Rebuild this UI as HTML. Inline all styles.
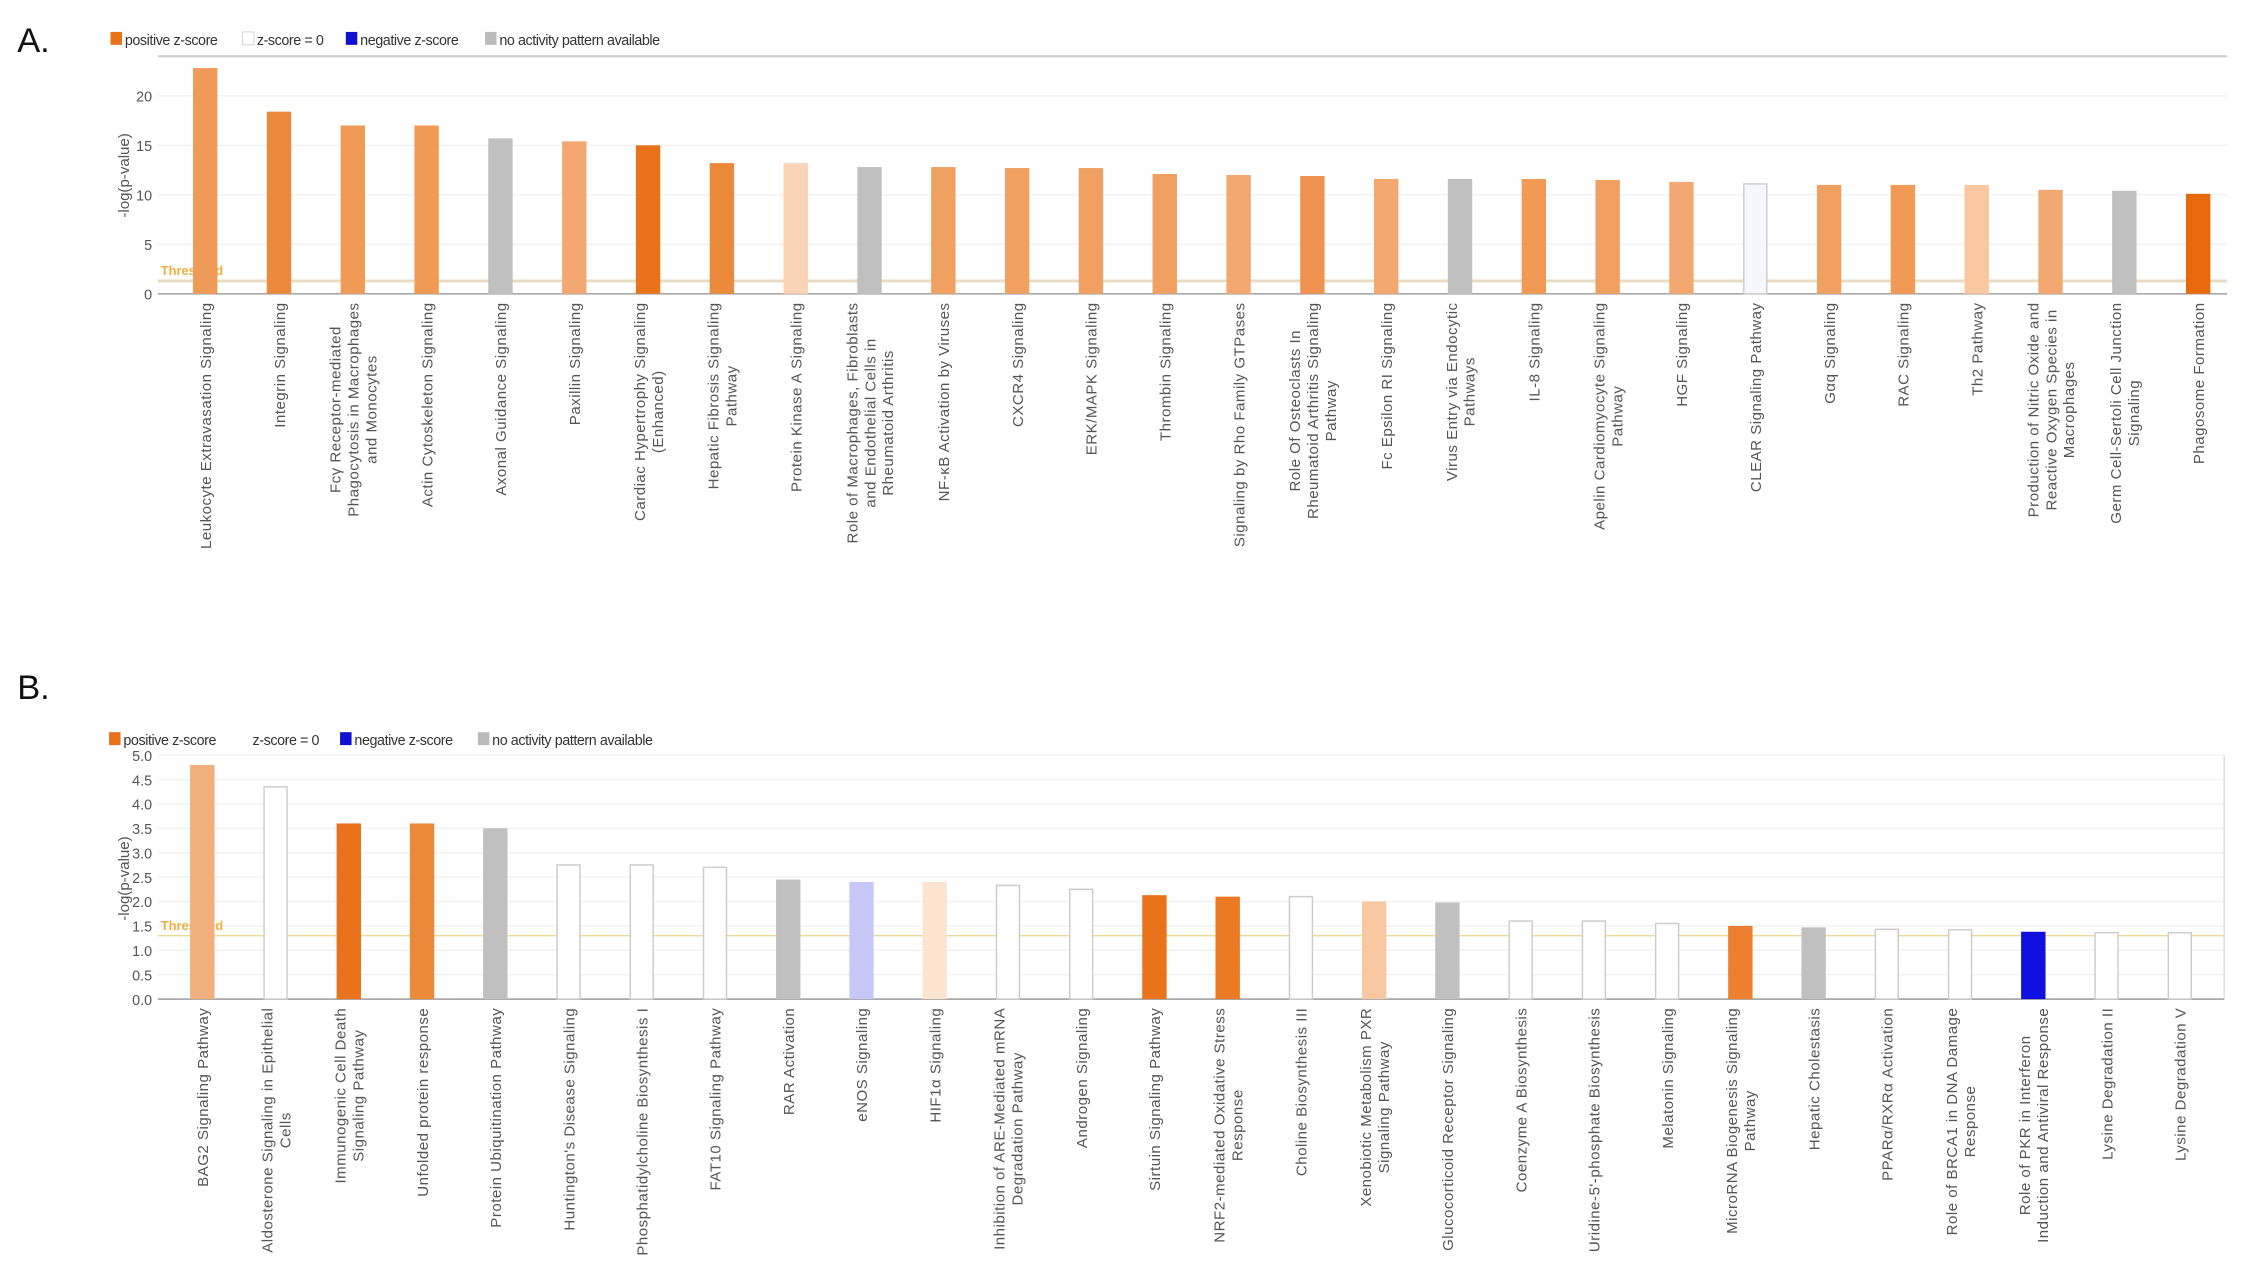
<!DOCTYPE html>
<html><head><meta charset="utf-8"><style>html,body{margin:0;padding:0;background:#fff}svg{display:block}</style></head>
<body>
<svg id="s" width="2250" height="1285" viewBox="0 0 1568 895" xmlns="http://www.w3.org/2000/svg" font-family="Liberation Sans, sans-serif">
<rect width="1568" height="895" fill="#fff"/>
<text x="12" y="36" font-size="24" fill="#111">A.</text>
<text x="12" y="487" font-size="24" fill="#111">B.</text>
<g font-size="10" fill="#333" letter-spacing="-0.3">
<rect x="77" y="22" width="8" height="9" fill="#e8731a"/><text x="87" y="31">positive z-score</text>
<rect x="169" y="22" width="8" height="9" fill="#fff" stroke="#ccc" stroke-width="0.6"/><text x="179" y="31">z-score = 0</text>
<rect x="241" y="22" width="8" height="9" fill="#1010d0"/><text x="251" y="31">negative z-score</text>
<rect x="338" y="22" width="8" height="9" fill="#bbb"/><text x="348" y="31">no activity pattern available</text>
</g>
<g font-size="10" fill="#333" letter-spacing="-0.3">
<rect x="76" y="510" width="8" height="9" fill="#e8731a"/><text x="86" y="519">positive z-score</text>
<text x="176" y="519">z-score = 0</text>
<rect x="237" y="510" width="8" height="9" fill="#1010d0"/><text x="247" y="519">negative z-score</text>
<rect x="333" y="510" width="8" height="9" fill="#bbb"/><text x="343" y="519">no activity pattern available</text>
</g>
<g id="ga"></g><g id="gb"></g>
</svg>
<script>
var NS="http://www.w3.org/2000/svg";
function el(p,t,a,txt){var e=document.createElementNS(NS,t);for(var k in a)e.setAttribute(k,a[k]);if(txt!=null)e.textContent=txt;p.appendChild(e);return e;}
function chart(g,o){
  o.ticks.forEach(function(t){var y=o.y0-t*o.k;el(g,'line',{x1:o.xl,x2:o.xr,y1:y,y2:y,stroke:'#f2f2f2','stroke-width':1});
    el(g,'text',{x:o.xl-4,y:y+4,'font-size':10,fill:'#555','text-anchor':'end'},o.fmt(t));});
  if(o.top)el(g,'line',{x1:o.xl,x2:o.xr,y1:o.top,y2:o.top,stroke:'#ccc','stroke-width':1.5});
  if(o.right)el(g,'line',{x1:o.xr,x2:o.xr,y1:o.right,y2:o.y0,stroke:'#ddd','stroke-width':1});
  var ty=o.y0-1.3*o.k;
  el(g,'line',{x1:o.xl,x2:o.xr,y1:ty,y2:ty,stroke:o.tc,'stroke-width':o.tw});
  el(g,'text',{x:o.xl+2,y:ty-4,'font-size':9,fill:'#f0b040','font-weight':'bold'},'Threshold');
  el(g,'line',{x1:o.xl,x2:o.xr,y1:o.y0,y2:o.y0,stroke:'#aaa','stroke-width':1.2});
  el(g,'text',{'font-size':10.5,fill:'#555',transform:'translate('+o.ylx+','+o.yly+') rotate(-90)','text-anchor':'middle'},'-log(p-value)');
  o.d.forEach(function(d,i){var cx=o.x1+i*o.sp,h=d[0]*o.k,c=d[1];
    var w=17;
    if(c=='w')el(g,'rect',{x:cx-w/2+0.5,y:o.y0-h,width:w-1,height:h,fill:'#fff',stroke:'#ccc','stroke-width':1});
    else if(c=='w2')el(g,'rect',{x:cx-w/2+0.5,y:o.y0-h,width:w-1,height:h,fill:'#f6f6ff',stroke:'#ccc','stroke-width':1});
    else el(g,'rect',{x:cx-w/2,y:o.y0-h,width:w,height:h,fill:c});
    var lines=d[2].split('|'),n=lines.length,els=[],mx=0;
    lines.forEach(function(L,j){var x=cx+(j-(n-1)/2)*12.5+4;
      var t=el(g,'text',{'font-size':10.5,'letter-spacing':0.35,fill:'#555','text-anchor':'end',transform:'translate('+x+','+(o.y0+6)+') rotate(-90)'},L);
      var len=0;try{len=t.getComputedTextLength();}catch(e){}
      mx=Math.max(mx,len);els.push([t,x]);});
    if(n>1&&mx>0)els.forEach(function(p){p[0].setAttribute('text-anchor','middle');p[0].setAttribute('transform','translate('+p[1]+','+(o.y0+6+mx/2)+') rotate(-90)');});
  });
}
var A=[[22.8,'#f09a58','Leukocyte Extravasation Signaling'],[18.4,'#ec8a3c','Integrin Signaling'],[17.0,'#f09a58','Fcγ Receptor-mediated|Phagocytosis in Macrophages|and Monocytes'],[17.0,'#f09a55','Actin Cytoskeleton Signaling'],[15.7,'#c0c0c0','Axonal Guidance Signaling'],[15.4,'#f2a870','Paxillin Signaling'],[15.0,'#e8731a','Cardiac Hypertrophy Signaling|(Enhanced)'],[13.2,'#ec8a3c','Hepatic Fibrosis Signaling|Pathway'],[13.2,'#fad4b4','Protein Kinase A Signaling'],[12.8,'#c0c0c0','Role of Macrophages, Fibroblasts|and Endothelial Cells in|Rheumatoid Arthritis'],[12.8,'#f0a060','NF-κB Activation by Viruses'],[12.7,'#f0a060','CXCR4 Signaling'],[12.7,'#f0a060','ERK/MAPK Signaling'],[12.1,'#f0a060','Thrombin Signaling'],[12.0,'#f2a870','Signaling by Rho Family GTPases'],[11.9,'#ee9450','Role Of Osteoclasts In|Rheumatoid Arthritis Signaling|Pathway'],[11.6,'#f2a870','Fc Epsilon RI Signaling'],[11.6,'#c0c0c0','Virus Entry via Endocytic|Pathways'],[11.6,'#f09a55','IL-8 Signaling'],[11.5,'#f0a060','Apelin Cardiomyocyte Signaling|Pathway'],[11.3,'#f2a870','HGF Signaling'],[11.1,'w2','CLEAR Signaling Pathway'],[11.0,'#f0a060','Gαq Signaling'],[11.0,'#f09a55','RAC Signaling'],[11.0,'#f8c8a0','Th2 Pathway'],[10.5,'#f2a870','Production of Nitric Oxide and|Reactive Oxygen Species in|Macrophages'],[10.4,'#c0c0c0','Germ Cell-Sertoli Cell Junction|Signaling'],[10.1,'#e8690a','Phagosome Formation']];
var B=[[4.8,'#f2ae7c','BAG2 Signaling Pathway'],[4.35,'w','Aldosterone Signaling in Epithelial|Cells'],[3.6,'#e8731a','Immunogenic Cell Death|Signaling Pathway'],[3.6,'#ec8a3c','Unfolded protein response'],[3.5,'#c0c0c0','Protein Ubiquitination Pathway'],[2.75,'w',"Huntington's Disease Signaling"],[2.75,'w','Phosphatidylcholine Biosynthesis I'],[2.7,'w','FAT10 Signaling Pathway'],[2.45,'#c0c0c0','RAR Activation'],[2.4,'#c8c8f8','eNOS Signaling'],[2.4,'#fde4d0','HIF1α Signaling'],[2.33,'w','Inhibition of ARE-Mediated mRNA|Degradation Pathway'],[2.25,'w','Androgen Signaling'],[2.13,'#e8731a','Sirtuin Signaling Pathway'],[2.1,'#ec7a24','NRF2-mediated Oxidative Stress|Response'],[2.1,'w','Choline Biosynthesis III'],[2.0,'#f8c8a0','Xenobiotic Metabolism PXR|Signaling Pathway'],[1.98,'#c0c0c0','Glucocorticoid Receptor Signaling'],[1.6,'w','Coenzyme A Biosynthesis'],[1.6,'w',"Uridine-5'-phosphate Biosynthesis"],[1.55,'w','Melatonin Signaling'],[1.5,'#ec8030','MicroRNA Biogenesis Signaling|Pathway'],[1.47,'#c0c0c0','Hepatic Cholestasis'],[1.43,'w','PPARα/RXRα Activation'],[1.42,'w','Role of BRCA1 in DNA Damage|Response'],[1.38,'#1010e0','Role of PKR in Interferon|Induction and Antiviral Response'],[1.36,'w','Lysine Degradation II'],[1.36,'w','Lysine Degradation V']];
chart(document.getElementById('ga'),{d:A,y0:204.5,k:6.9,xl:110,xr:1552,x1:143,sp:51.44,ticks:[0,5,10,15,20],fmt:function(t){return ''+t},top:39,tc:'#e8dcc0',tw:2,ylx:90,yly:122});
chart(document.getElementById('gb'),{d:B,y0:696,k:34,xl:110,xr:1550,x1:141,sp:51.04,ticks:[0,0.5,1,1.5,2,2.5,3,3.5,4,4.5,5],fmt:function(t){return t.toFixed(1)},right:526,tc:'#f0d890',tw:1,ylx:90,yly:612});
</script>
</body></html>
